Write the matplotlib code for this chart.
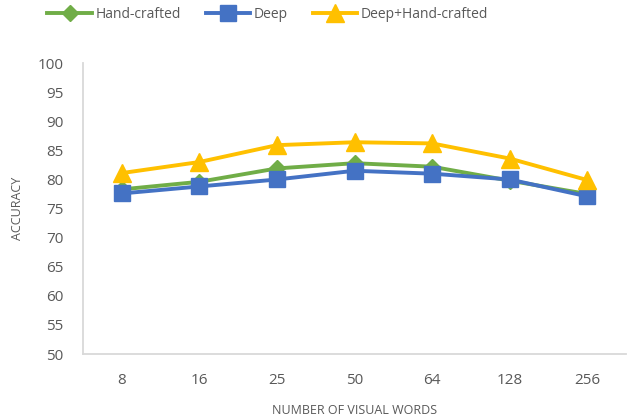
import matplotlib
matplotlib.use("Agg")
import matplotlib.pyplot as plt

words = ["8", "16", "25", "50", "64", "128", "256"]
hand_crafted = [78.3, 79.6, 81.9, 82.8, 82.2, 79.8, 77.5]
deep = [77.6, 78.8, 80.0, 81.5, 81.0, 80.0, 77.1]
deep_hand = [81.1, 83.0, 85.9, 86.4, 86.2, 83.6, 79.9]

plt.rcParams['font.family'] = ['Open Sans', 'DejaVu Sans']
txt = '#595959'

fig = plt.figure(figsize=(6.28, 4.18), dpi=100)
ax = fig.add_axes([0.132, 0.153, 0.865, 0.696])

x = range(len(words))
ax.plot(x, hand_crafted, color='#70AD47', lw=2.8, marker='D', ms=8,
        label='Hand-crafted')
ax.plot(x, deep, color='#4472C4', lw=2.8, marker='s', ms=12,
        label='Deep')
ax.plot(x, deep_hand, color='#FFC000', lw=2.8, marker='^', ms=13,
        label='Deep+Hand-crafted')

ax.set_xlim(-0.5, len(words) - 0.5)
ax.set_ylim(50, 100)
ax.set_yticks(range(50, 101, 5))
ax.set_xticks(list(x))
ax.set_xticklabels(words)
ax.tick_params(length=0, labelsize=11, colors=txt)
ax.tick_params(axis='x', pad=14)
ax.tick_params(axis='y', pad=14)

for s in ['top', 'right']:
    ax.spines[s].set_visible(False)
for s in ['left', 'bottom']:
    ax.spines[s].set_color('#D9D9D9')
    ax.spines[s].set_linewidth(1.3)

ax.set_xlabel('NUMBER OF VISUAL WORDS', fontsize=9, color=txt, labelpad=11)
ax.set_ylabel('ACCURACY', fontsize=9, color=txt, labelpad=10)

ax.legend(loc='upper center', bbox_to_anchor=(0.34, 1.235), ncol=3,
          frameon=False, fontsize=10, labelcolor=txt, handlelength=3.2,
          handletextpad=0.25, columnspacing=1.8)

fig.savefig('out.png', dpi=100)
